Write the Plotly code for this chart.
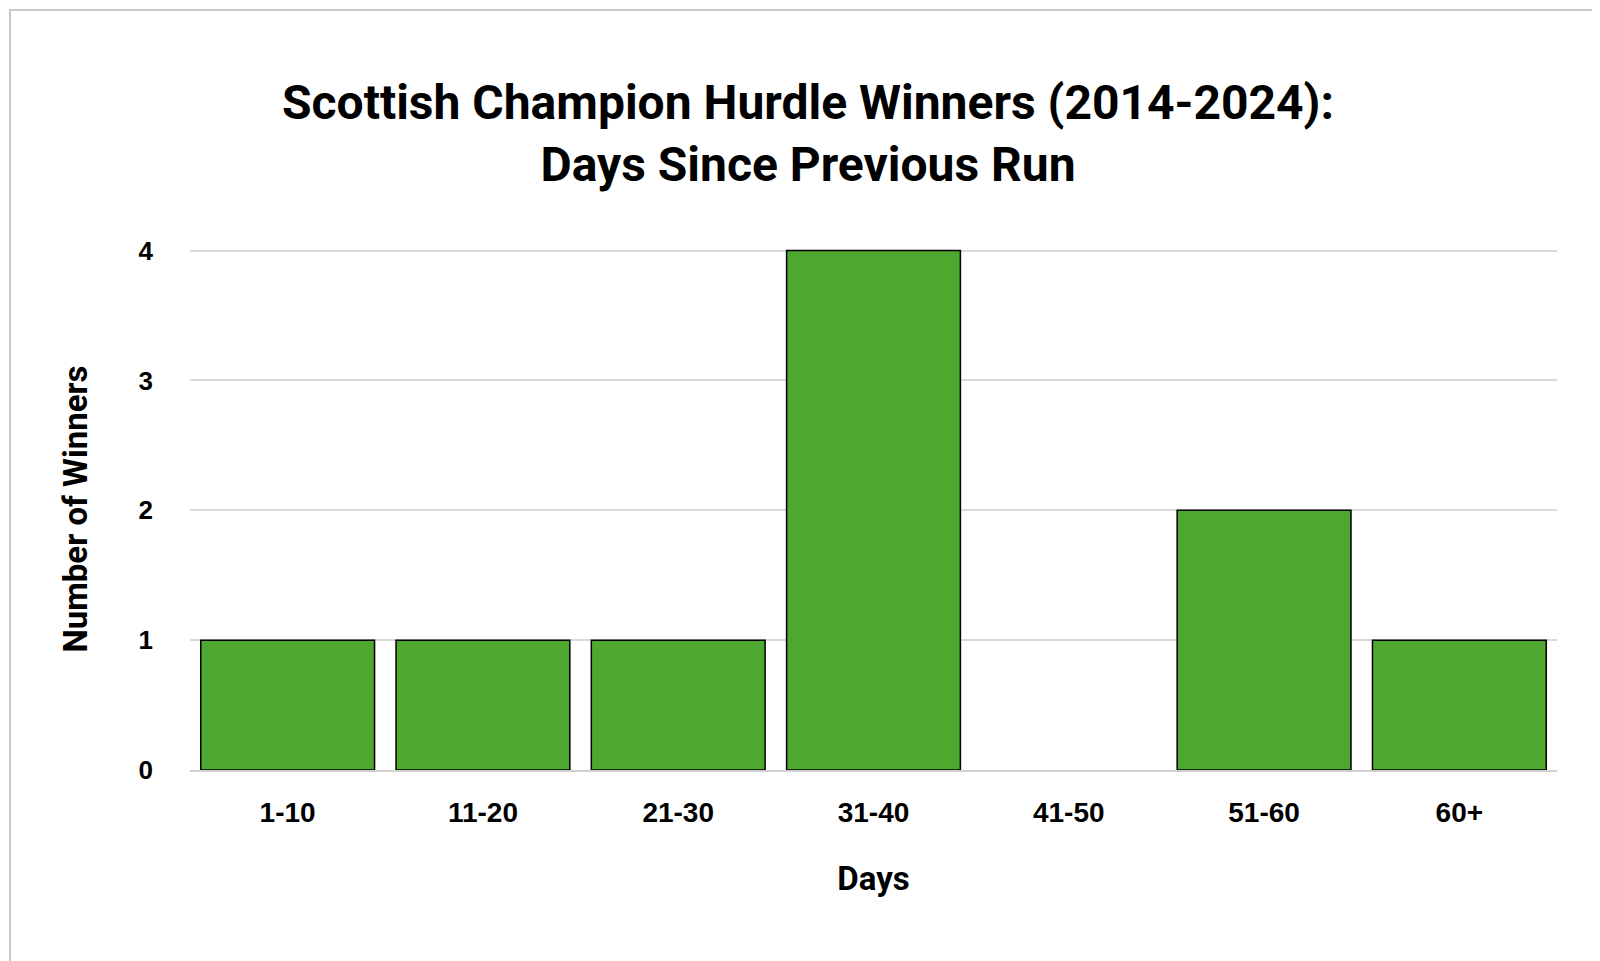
import plotly.graph_objects as go

days = ["1-10", "11-20", "21-30", "31-40", "41-50", "51-60", "60+"]
winners = [1, 1, 1, 4, 0, 2, 1]

fig = go.Figure()
fig.add_trace(go.Bar(
    x=days, y=winners,
    marker=dict(color="#4EA72E",
                line=dict(color="black", width=[1.5 if v else 0 for v in winners])),
))
fig.update_layout(
    width=1600, height=961,
    paper_bgcolor="white", plot_bgcolor="white",
    font=dict(family="Liberation Sans, Arial", color="black"),
    title=dict(
        text="<b>Scottish Champion Hurdle Winners (2014-2024):<br>Days Since Previous Run</b>",
        x=0.5, xanchor="center", y=0.885, yanchor="middle",
        font=dict(size=48, family="Roboto, Liberation Sans"),
    ),
    margin=dict(l=182, r=51, t=240, b=199),
    bargap=0.11,
    showlegend=False,
    shapes=[dict(type="rect", xref="paper", yref="paper", x0=-0.1317, x1=1.0358,
                 y0=-0.377, y1=1.456, line=dict(color="#c8c8c8", width=2))],
)
fig.update_xaxes(
    title=dict(text="<b>Days</b>", font=dict(size=33, family="Roboto, Liberation Sans"), standoff=40),
    tickfont=dict(size=28), tickprefix="<b>", ticksuffix="</b>",
    showline=True, linecolor="#d0d0d0", linewidth=2, ticks="", ticklabelstandoff=16,
)
fig.update_yaxes(
    title=dict(text="<b>Number of Winners</b>", font=dict(size=33, family="Roboto, Liberation Sans"), standoff=40),
    range=[0, 4.02], dtick=1, tickfont=dict(size=26), tickprefix="<b>", ticksuffix="</b>",
    showgrid=True, gridcolor="#d9d9d9", gridwidth=2, zeroline=False, ticklabelstandoff=36,
)
fig.write_html("out.html")
